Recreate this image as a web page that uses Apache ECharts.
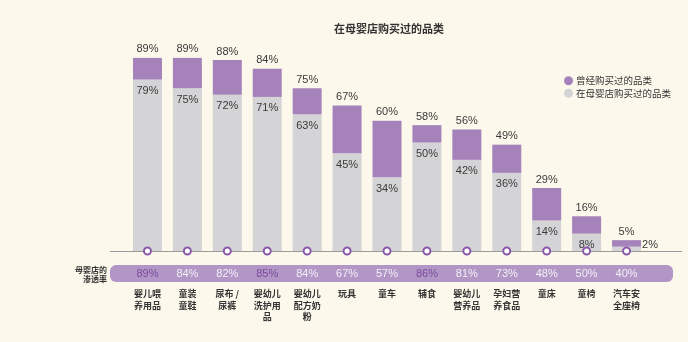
<!DOCTYPE html>
<html>
<head>
<meta charset="utf-8">
<script src="https://cdn.jsdelivr.net/npm/echarts@6/dist/echarts.min.js"></script>
<style>
  html, body { margin: 0; padding: 0; background: #fcf9ec; }
  #chart { width: 688px; height: 342px; }
</style>
</head>
<body>
<div id="chart"></div>
<script>
// Product categories bought (line breaks follow the printed layout)
const categories = [
  '婴儿喂\n养用品', '童装\n童鞋', '尿布 /\n尿裤', '婴幼儿\n洗护用\n品', '婴幼儿\n配方奶\n粉',
  '玩具', '童车', '辅食', '婴幼儿\n营养品', '孕妇营\n养食品', '童床', '童椅', '汽车安\n全座椅'
];
// Share who have ever bought the category (%)
const everBought = [89, 89, 88, 84, 75, 67, 60, 58, 56, 49, 29, 16, 5];
// Share who bought it at a maternity & baby store (%)
const boughtInStore = [79, 75, 72, 71, 63, 45, 34, 50, 42, 36, 14, 8, 2];
// Maternity & baby store penetration rate (%)
const penetration = [89, 84, 82, 85, 84, 67, 57, 86, 81, 73, 48, 50, 40];
// Categories whose penetration is emphasised
const highlighted = [0, 3, 7];

const PURPLE = '#a583ba';
const GRAY = '#d4d4d6';
const TEXT = '#3a3a3a';
const NUM_FONT = 'Liberation Sans, Arial, sans-serif';
const CJK_FONT = 'Noto Sans CJK SC, sans-serif';

const extra = everBought.map((v, i) => v - boughtInStore[i]);
const zeros = categories.map(() => 0);

const chart = echarts.init(document.getElementById('chart'), null, { renderer: 'canvas' });

chart.setOption({
  backgroundColor: '#fcf9ec',
  animation: false,
  title: {
    text: '在母婴店购买过的品类',
    left: 329,
    top: 18,
    textStyle: { fontFamily: CJK_FONT, fontSize: 11, fontWeight: 'bold', color: '#333' }
  },
  legend: {
    orient: 'vertical',
    left: 559,
    top: 71,
    itemWidth: 9,
    itemHeight: 9,
    itemGap: 3,
    icon: 'circle',
    data: ['曾经购买过的品类', '在母婴店购买过的品类'],
    textStyle: { fontFamily: CJK_FONT, fontSize: 9.5, color: '#333', padding: [0, 0, 0, -2] }
  },
  grid: { left: 127.5, right: 41.5, top: 34, bottom: 91 },
  xAxis: [
    {
      type: 'category',
      data: categories,
      axisLine: { show: false },
      axisTick: { show: false },
      axisLabel: {
        interval: 0,
        margin: 37,
        fontFamily: CJK_FONT,
        fontSize: 9,
        fontWeight: 'bold',
        lineHeight: 11.5,
        color: '#333'
      }
    },
    {
      type: 'category',
      position: 'bottom',
      data: penetration.map(v => v + '%'),
      axisLine: { show: false },
      axisTick: { show: false },
      axisLabel: {
        interval: 0,
        margin: 23,
        verticalAlign: 'middle',
        formatter: (val, idx) => highlighted.includes(idx) ? '{hi|' + val + '}' : '{n|' + val + '}',
        rich: {
          hi: { fontFamily: NUM_FONT, fontSize: 11, color: '#7a4b9e' },
          n: { fontFamily: NUM_FONT, fontSize: 11, color: '#f4eff7' }
        }
      }
    }
  ],
  yAxis: { type: 'value', min: 0, max: 100, show: false },
  graphic: [
    {
      type: 'rect',
      z: 0,
      shape: { x: 110, y: 265, width: 563, height: 17, r: 6 },
      style: { fill: '#b196c6' }
    },
    {
      type: 'line',
      z: 5,
      shape: { x1: 110, y1: 251.5, x2: 682, y2: 251.5 },
      style: { stroke: '#9a9a9a', lineWidth: 1 }
    },
    {
      type: 'text',
      z: 5,
      x: 107,
      y: 265,
      style: {
        text: '母婴店的\n渗透率',
        align: 'right',
        fontFamily: CJK_FONT,
        fontSize: 8,
        fontWeight: 'bold',
        lineHeight: 9.5,
        fill: '#333'
      }
    }
  ],
  series: [
    {
      name: '在母婴店购买过的品类',
      type: 'bar',
      stack: 'share',
      barWidth: 29,
      itemStyle: { color: GRAY },
      data: boughtInStore.map((v, i) => {
        if (i === boughtInStore.length - 1) {
          return { value: v, label: { position: 'right', distance: 1, offset: [0, -4] } };
        }
        return v;
      }),
      label: {
        show: true,
        position: 'insideTop',
        distance: 6,
        fontFamily: NUM_FONT,
        fontSize: 11,
        color: TEXT,
        formatter: p => p.value + '%'
      }
    },
    {
      name: '曾经购买过的品类',
      type: 'bar',
      stack: 'share',
      barWidth: 29,
      itemStyle: { color: PURPLE },
      data: extra,
      label: {
        show: true,
        position: 'top',
        distance: 3,
        fontFamily: NUM_FONT,
        fontSize: 11,
        color: TEXT,
        formatter: p => everBought[p.dataIndex] + '%'
      }
    },
    {
      type: 'scatter',
      z: 10,
      symbol: 'circle',
      symbolSize: 7,
      clip: false,
      silent: true,
      itemStyle: { color: '#ffffff', borderColor: '#8a58aa', borderWidth: 2, opacity: 1 },
      data: zeros
    }
  ]
});
</script>
</body>
</html>
